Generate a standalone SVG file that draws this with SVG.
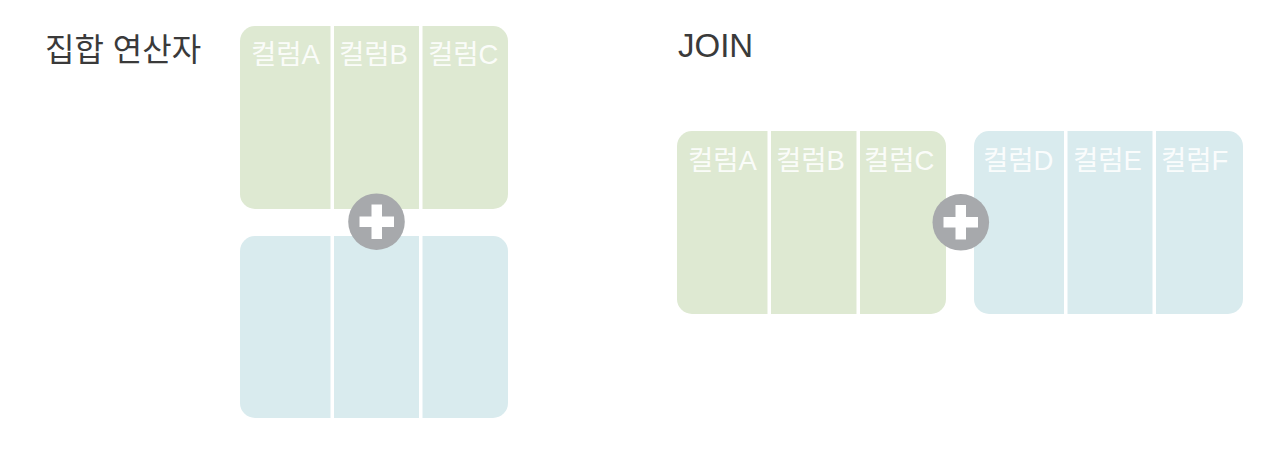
<svg xmlns="http://www.w3.org/2000/svg" width="1282" height="458" viewBox="0 0 1282 458">
  <style>
    .title { font-family: "Liberation Sans", "Noto Sans CJK KR", sans-serif; fill: #3a3a3a; }
    .lbl { font-family: "Liberation Sans", "Noto Sans CJK KR", sans-serif; font-size: 27.5px; fill: #ffffff; fill-opacity: 0.9; }
    .green { fill: #dee9d2; }
    .blue { fill: #d9ebee; }
    .div { fill: #ffffff; }
    .plus-bg { fill: #a7a9ac; }
    .plus-bar { fill: #ffffff; }
  </style>
  <rect width="1282" height="458" fill="#ffffff"/>

  <g id="title-set">
    <text class="title" x="45" y="61" font-size="32">집합 연산자</text>
  </g>
  <g id="title-join">
    <text class="title" x="678" y="57" font-size="33">JOIN</text>
  </g>

  <g id="set-top">
    <rect class="green" x="240" y="26" width="268" height="183" rx="15"/>
    <rect class="div" x="330.5" y="26" width="3.5" height="183"/>
    <rect class="div" x="419" y="26" width="3.5" height="183"/>
    <text class="lbl" x="251" y="64">컬럼A</text>
    <text class="lbl" x="339" y="64">컬럼B</text>
    <text class="lbl" x="428" y="64">컬럼C</text>
  </g>

  <g id="set-bottom">
    <rect class="blue" x="240" y="236" width="268" height="182" rx="15"/>
    <rect class="div" x="330.5" y="236" width="3.5" height="182"/>
    <rect class="div" x="419" y="236" width="3.5" height="182"/>
  </g>

  <g id="join-left">
    <rect class="green" x="677" y="131" width="269" height="183" rx="15"/>
    <rect class="div" x="767.5" y="131" width="3.5" height="183"/>
    <rect class="div" x="856.5" y="131" width="3.5" height="183"/>
    <text class="lbl" x="688" y="170">컬럼A</text>
    <text class="lbl" x="776" y="170">컬럼B</text>
    <text class="lbl" x="864" y="170">컬럼C</text>
  </g>

  <g id="join-right">
    <rect class="blue" x="974" y="131" width="269" height="183" rx="15"/>
    <rect class="div" x="1064" y="131" width="3.5" height="183"/>
    <rect class="div" x="1152.5" y="131" width="3.5" height="183"/>
    <text class="lbl" x="983" y="170">컬럼D</text>
    <text class="lbl" x="1073" y="170">컬럼E</text>
    <text class="lbl" x="1161" y="170">컬럼F</text>
  </g>

  <g id="connectors">
    <g id="plus-set">
      <circle class="plus-bg" cx="376.5" cy="221.7" r="28.3"/>
      <rect class="plus-bar" x="359.5" y="216.5" width="34.5" height="10.5"/>
      <rect class="plus-bar" x="371.5" y="204.5" width="10.5" height="34.5"/>
    </g>
    <g id="plus-join">
      <circle class="plus-bg" cx="960.8" cy="222.3" r="28.3"/>
      <rect class="plus-bar" x="943.5" y="217" width="34.5" height="10.5"/>
      <rect class="plus-bar" x="955.5" y="205" width="10.5" height="34.5"/>
    </g>
  </g>
</svg>
